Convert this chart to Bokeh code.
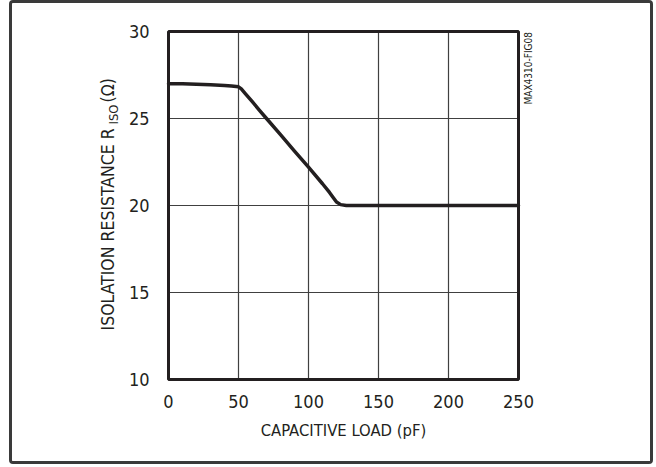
import math
from bokeh.plotting import figure
from bokeh.models import Range1d, Label, FixedTicker
from bokeh.embed import file_html
from bokeh.resources import INLINE

# ---- data ----
cap_load_pf = [0, 10, 20, 30, 40, 45, 50, 52, 55, 60, 65, 70, 80, 90, 100, 110, 115, 118, 120, 123, 127, 130, 150, 200, 250]
r_iso_ohm = [27.0, 26.99, 26.97, 26.94, 26.9, 26.87, 26.82, 26.7, 26.42, 25.95, 25.47, 25.0, 24.07, 23.13, 22.2, 21.25, 20.75, 20.42, 20.2, 20.05, 20.0, 20.0, 20.0, 20.0, 20.0]
x_ticks = [0, 50, 100, 150, 200, 250]
y_ticks = [10, 15, 20, 25, 30]
x_title = "CAPACITIVE LOAD (pF)"
y_title_main = "ISOLATION RESISTANCE R"
y_title_sub = "ISO"
y_title_unit = "(Ω)"
fig_id = "MAX4310-FIG08"

FONT = "DejaVu Sans Condensed"
INK = "#231f20"

# layout: canvas 644x464 placed at page (12, 3); plot box at page x 168..518, y 31..379
W, H = 644, 464
X0, Y0 = 12, 3
BOX_L, BOX_R, BOX_T, BOX_B = 168, 518, 31, 379
xs = (BOX_R - BOX_L) / (x_ticks[-1] - x_ticks[0])
ys = (BOX_B - BOX_T) / (y_ticks[-1] - y_ticks[0])


def dx(px):
    return x_ticks[0] + (px - BOX_L) / xs


def dy(py):
    return y_ticks[0] + (BOX_B - py) / ys


p = figure(width=W, height=H, output_backend="svg", toolbar_location=None,
           x_range=Range1d(dx(X0), dx(X0 + W)), y_range=Range1d(dy(Y0 + H), dy(Y0)),
           min_border=0, min_border_left=0, min_border_right=0,
           min_border_top=0, min_border_bottom=0)
p.styles = {"border": "3px solid #3a3a3a", "border-radius": "4px",
            "margin-left": "9px"}

p.background_fill_color = "white"
p.border_fill_color = "white"
p.outline_line_color = None
p.grid.visible = False

for ax, ticks, loc in ((p.xaxis, x_ticks, y_ticks[0]), (p.yaxis, y_ticks, x_ticks[0])):
    ax.ticker = FixedTicker(ticks=ticks)
    ax.fixed_location = loc
    ax.axis_line_color = None
    ax.major_tick_line_color = None
    ax.minor_tick_line_color = None
    ax.major_label_text_font = FONT
    ax.major_label_text_font_size = "18px"
    ax.major_label_text_color = INK

p.xaxis.major_label_standoff = 9
p.yaxis.major_label_standoff = 13

# grid lines at the tick positions
n_x, n_y = len(x_ticks), len(y_ticks)
p.segment(x0=x_ticks, y0=[y_ticks[0]] * n_x, x1=x_ticks, y1=[y_ticks[-1]] * n_x,
          line_color="#404040", line_width=1.2)
p.segment(x0=[x_ticks[0]] * n_y, y0=y_ticks, x1=[x_ticks[-1]] * n_y, y1=y_ticks,
          line_color="#404040", line_width=1.2)

p.line(cap_load_pf, r_iso_ohm, line_color=INK, line_width=3.5, line_join="round", line_cap="round")

# plot box
p.quad(left=[x_ticks[0]], right=[x_ticks[-1]], bottom=[y_ticks[0]], top=[y_ticks[-1]],
       fill_color=None, line_color=INK, line_width=3)

# x title
p.add_layout(Label(x=dx((BOX_L + BOX_R) / 2), y=dy(430), text=x_title, text_font=FONT,
                   text_font_size="16.5px", text_color=INK, text_align="center",
                   text_baseline="middle"))

# y title composed of pieces (subscript)
rot = dict(angle=math.pi / 2, text_font=FONT, text_color=INK, text_baseline="middle",
           text_align="left")
p.add_layout(Label(x=dx(107), y=dy(330), text=y_title_main, text_font_size="17.5px", **rot))
p.add_layout(Label(x=dx(113), y=dy(124), text=y_title_sub, text_font_size="13px", **rot))
p.add_layout(Label(x=dx(107), y=dy(102), text=y_title_unit, text_font_size="17.5px", **rot))

# figure id
p.add_layout(Label(x=dx(527.5), y=dy(104), text=fig_id, text_font_size="10px", **rot))

open("out.html", "w").write(file_html(p, INLINE))
